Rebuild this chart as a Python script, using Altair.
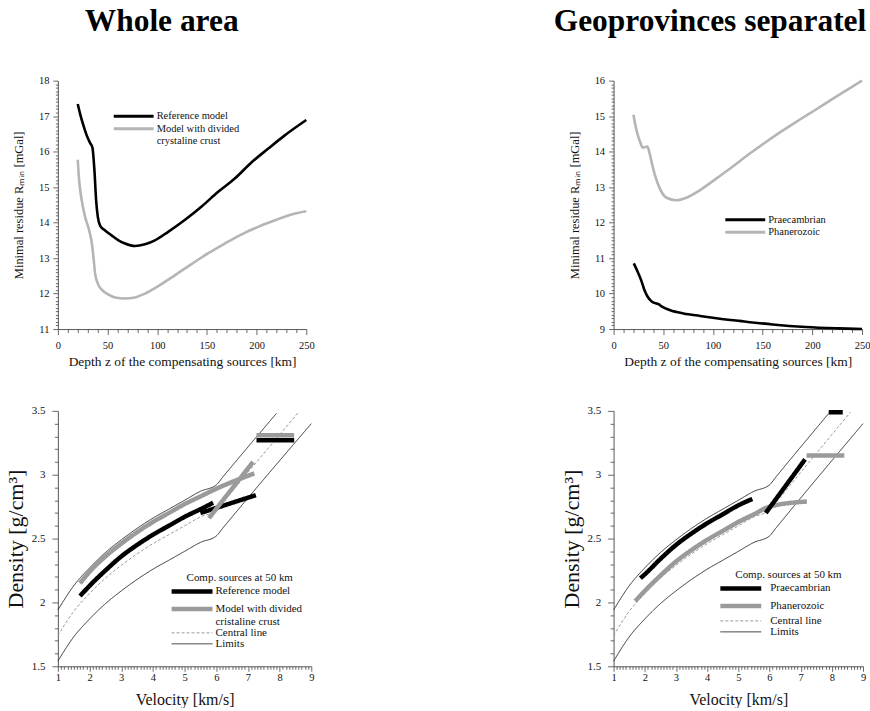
import altair as alt
import pandas as pd

# ---------------- panel titles ----------------
panel_titles = ["Whole area", "Geoprovinces separately"]

# ---------------- top-left: whole area ----------------
depth_ref = [20, 22.5, 25.8, 29.1, 32.5, 34.8, 36.8, 38.5, 40.2, 42.8, 47.5, 54, 61, 67.6, 77.6,
             87.7, 97.7, 111, 128, 145, 161, 178, 195, 211.5, 228, 250]
rmin_ref = [17.34, 17.05, 16.73, 16.45, 16.24, 16.11, 15.47, 14.63, 14.16, 13.90, 13.78, 13.64, 13.50,
            13.41, 13.34, 13.39, 13.50, 13.74, 14.08, 14.46, 14.86, 15.24, 15.70, 16.08, 16.45, 16.89]
depth_div = [20, 21.4, 24, 27.4, 31.5, 34, 35.8, 37.5, 40.2, 44.2, 51, 57.6, 67.6, 77.6, 87.7, 101,
             118, 134.5, 151, 168, 185, 201.5, 218, 235, 250]
rmin_div = [15.77, 15.19, 14.63, 14.16, 13.78, 13.45, 13.03, 12.56, 12.28, 12.11, 11.97, 11.89, 11.86,
            11.89, 12.00, 12.21, 12.52, 12.83, 13.13, 13.41, 13.67, 13.88, 14.06, 14.23, 14.32]

# ---------------- top-right: geoprovinces ----------------
depth_prae = [20.3, 24.3, 27.7, 31, 34.3, 38.7, 45.3, 48.7, 57, 70.3, 87, 105.3, 126.7, 160, 193.3, 226.7, 250]
rmin_prae = [10.85, 10.61, 10.38, 10.10, 9.91, 9.77, 9.70, 9.63, 9.53, 9.44, 9.37, 9.30, 9.23, 9.13, 9.06, 9.02, 9.00]
depth_phan = [20, 21.7, 24, 26.7, 29.3, 31.7, 34, 36, 38.3, 41.7, 46.7, 53.3, 63.3, 73.3, 86.7, 103.3,
              120, 136.7, 153.3, 170, 186.7, 203.3, 220, 236.7, 250]
rmin_phan = [15.04, 14.78, 14.50, 14.27, 14.11, 14.13, 14.14, 13.98, 13.70, 13.33, 12.95, 12.70, 12.63,
             12.70, 12.91, 13.24, 13.58, 13.94, 14.27, 14.59, 14.89, 15.18, 15.48, 15.77, 16.00]

# ---------------- bottom: velocity-density envelopes ----------------
vel_upper = [1, 1.5, 2, 2.5, 3, 3.5, 4, 4.5, 5, 5.5, 6, 6.2, 7.9]
dens_upper = [1.94, 2.13, 2.27, 2.39, 2.49, 2.58, 2.66, 2.73, 2.80, 2.87, 2.92, 2.98, 3.48]
vel_central = [1, 1.5, 2, 2.5, 3, 3.5, 4, 4.5, 5, 5.5, 6, 6.2, 8.6]
dens_central = [1.74, 1.93, 2.07, 2.19, 2.29, 2.38, 2.46, 2.53, 2.60, 2.67, 2.72, 2.78, 3.49]
vel_lower = [1, 1.5, 2, 2.5, 3, 3.5, 4, 4.5, 5, 5.5, 6, 6.2, 9]
dens_lower = [1.54, 1.73, 1.87, 1.99, 2.09, 2.18, 2.26, 2.33, 2.40, 2.47, 2.52, 2.58, 3.40]

# bottom-left segments
ref_curve_v = [1.7, 2, 2.5, 3, 3.5, 4, 4.5, 5, 5.5, 5.9]
ref_curve_d = [2.05, 2.13, 2.25, 2.36, 2.45, 2.53, 2.60, 2.67, 2.73, 2.78]
ref_lin_v = [5.5, 7.25]
ref_lin_d = [2.70, 2.84]
ref_top_v = [7.27, 8.46]
ref_top_d = [3.27, 3.27]
div_curve_v = [1.7, 2, 2.5, 3, 3.5, 4, 4.5, 5, 5.5, 6, 7.2]
div_curve_d = [2.15, 2.24, 2.36, 2.46, 2.55, 2.63, 2.70, 2.77, 2.83, 2.89, 3.01]
div_lin_v = [5.77, 7.16]
div_lin_d = [2.66, 3.10]
div_top_v = [7.27, 8.46]
div_top_d = [3.31, 3.31]

# bottom-right segments
prae_curve_v = [1.86, 2, 2.5, 3, 3.5, 4, 4.5, 5, 5.45]
prae_curve_d = [2.19, 2.22, 2.34, 2.45, 2.54, 2.62, 2.69, 2.76, 2.81]
prae_lin_v = [5.88, 7.14]
prae_lin_d = [2.70, 3.12]
prae_top_v = [7.9, 8.35]
prae_top_d = [3.49, 3.49]
phan_curve_v = [1.69, 2, 2.5, 3, 3.5, 4, 4.5, 5, 5.5, 6, 7.2]
phan_curve_d = [2.01, 2.09, 2.21, 2.32, 2.41, 2.49, 2.56, 2.63, 2.69, 2.75, 2.79]
phan_top_v = [7.19, 8.4]
phan_top_d = [3.15, 3.15]

FONT = "Liberation Serif"


def frame(pairs):
    parts = []
    for xs, ys, series, seg in pairs:
        parts.append(pd.DataFrame({"x": xs, "y": ys, "series": series, "seg": seg}))
    return pd.concat(parts, ignore_index=True)


def axis(title, values, test, major, minor, lpad, tpad, lsize, tsize, ext=None):
    kw = dict(
        title=title, values=values,
        tickSize={"condition": {"test": test, "value": major}, "value": minor},
        labelExpr="(" + test + ") ? format(datum.value, '~g') : ''",
        labelPadding=lpad, titlePadding=tpad, labelFontSize=lsize, titleFontSize=tsize,
    )
    if ext is not None:
        kw["minExtent"] = ext
        kw["maxExtent"] = ext
    return alt.Axis(**kw)


def heading(text, dx, limit):
    return alt.Chart(pd.DataFrame({"t": [text]})).mark_text(
        font=FONT, fontSize=31.5, fontWeight="bold", color="#000", align="left",
        baseline="alphabetic", limit=limit, ellipsis="\u200b",
    ).encode(text="t:N", x=alt.value(dx), y=alt.value(-50))


top_x_vals = list(range(0, 251, 10))
test_50 = "abs(datum.value % 50) < 0.001"
test_int = "abs(datum.value - round(datum.value)) < 0.001"
test_half = "abs(datum.value*2 - round(datum.value*2)) < 0.001"


def top_panel(df, domain, colors, ydom, ytitle, legx, legy, head, width):
    yvals = [round(ydom[0] + i * 0.1, 1) for i in range(int(round((ydom[1] - ydom[0]) * 10)) + 1)]
    lab_expr = ("datum.label == 'Model with divided crystaline crust' ? "
                "['Model with divided', 'crystaline crust'] : datum.label")
    lines = alt.Chart(df).mark_line(strokeWidth=2.6, interpolate="monotone").encode(
        x=alt.X("x:Q", scale=alt.Scale(domain=[0, 250], nice=False, zero=False),
                axis=axis("Depth z of the compensating sources [km]", top_x_vals, test_50,
                          5.5, 3.5, 6, 4, 10.5, 13.5)),
        y=alt.Y("y:Q", scale=alt.Scale(domain=ydom, nice=False, zero=False),
                axis=axis(ytitle, yvals, test_int, 5, 2.5, 4, 12, 10.5, 12.5, ext=20)),
        color=alt.Color("series:N", scale=alt.Scale(domain=domain, range=colors),
                        legend=alt.Legend(title=None, orient="none", legendX=legx, legendY=legy,
                                          symbolType="M-8,0H8", symbolSize=25, symbolStrokeWidth=3,
                                          labelFont=FONT, labelFontSize=10.5, labelColor="#111",
                                          labelOffset=17.75, rowPadding=-0.5, padding=0,
                                          labelExpr=lab_expr)),
        detail="seg:N",
    )
    return alt.layer(lines, head).properties(width=width, height=249)


def bottom_panel(df_env, df_thick, domain, legx, legy, lab_off, width):
    colors = ["#000000", "#9a9a9a", "#9a9a9a", "#333333"]
    widths = [4.5, 4.5, 1, 1]
    dashes = [[1, 0], [1, 0], [3, 2], [1, 0]]
    lab_expr = ("indexof(datum.label, 'Model with divided') == 0 ? "
                "['Model with divided', 'cristaline crust'] : datum.label")
    leg = alt.Legend(title="Comp. sources at 50 km", titleFont=FONT, titleFontSize=11,
                     titleFontWeight="normal", titleColor="#111", titlePadding=2.5,
                     titleAnchor="start",
                     orient="none", legendX=legx, legendY=legy,
                     symbolType="M-8.2,0H8.2", symbolSize=25,
                     labelOffset=lab_off, labelFont=FONT, labelFontSize=11, labelColor="#111",
                     rowPadding=-1.5, padding=0, labelExpr=lab_expr)
    xvals = [round(1 + i * 0.1, 1) for i in range(81)]
    yvals = [round(1.5 + i * 0.1, 1) for i in range(21)]
    enc = dict(
        x=alt.X("x:Q", scale=alt.Scale(domain=[1, 9], nice=False, zero=False),
                axis=axis("Velocity [km/s]", xvals, test_int, 5, 3, 1.5, 8, 10.5, 16)),
        y=alt.Y("y:Q", scale=alt.Scale(domain=[1.5, 3.5], nice=False, zero=False),
                axis=axis("Density [g/cm³]", yvals, test_half, 6, 3.5, 7, 10, 11, 22, ext=20)),
        color=alt.Color("series:N", scale=alt.Scale(domain=domain, range=colors), legend=leg),
        strokeWidth=alt.StrokeWidth("series:N", scale=alt.Scale(type="ordinal", domain=domain, range=widths), legend=leg),
        strokeDash=alt.StrokeDash("series:N", scale=alt.Scale(domain=domain, range=dashes), legend=leg),
        detail="seg:N",
    )
    env = alt.Chart(df_env).mark_line(interpolate="monotone").encode(**enc)
    thick = alt.Chart(df_thick).mark_line(interpolate="monotone").encode(**enc)
    return alt.layer(env, thick).properties(width=width, height=256)


# ---- build data frames ----
dom1 = ["Reference model", "Model with divided crystaline crust"]
df1 = frame([(depth_ref, rmin_ref, dom1[0], "a"), (depth_div, rmin_div, dom1[1], "b")])
dom2 = ["Praecambrian", "Phanerozoic"]
df2 = frame([(depth_prae, rmin_prae, dom2[0], "a"), (depth_phan, rmin_phan, dom2[1], "b")])

dom3 = ["Reference model", "Model with divided cristaline crust", "Central line", "Limits"]
dom4 = ["Praecambrian", "Phanerozoic", "Central line", "Limits"]


def env_frame(central, limits):
    return frame([(vel_central, dens_central, central, "c"),
                  (vel_upper, dens_upper, limits, "u"),
                  (vel_lower, dens_lower, limits, "l")])


env3 = env_frame("Central line", "Limits")
env4 = env_frame("Central line", "Limits")
thick3 = frame([(ref_curve_v, ref_curve_d, dom3[0], "r1"), (ref_lin_v, ref_lin_d, dom3[0], "r2"),
                (ref_top_v, ref_top_d, dom3[0], "r3"),
                (div_curve_v, div_curve_d, dom3[1], "d1"), (div_lin_v, div_lin_d, dom3[1], "d2"),
                (div_top_v, div_top_d, dom3[1], "d3")])
thick4 = frame([(phan_curve_v, phan_curve_d, dom4[1], "h1"), (phan_top_v, phan_top_d, dom4[1], "h3"),
                (prae_curve_v, prae_curve_d, dom4[0], "p1"), (prae_lin_v, prae_lin_d, dom4[0], "p2"),
                (prae_top_v, prae_top_d, dom4[0], "p3")])

p1 = top_panel(df1, dom1, ["#000000", "#b5b5b5"], [11, 18], "Minimal residue Rₘᵢₙ [mGal]",
               70.75, 30.5, heading(panel_titles[0], 27, 300), 249)
p2 = top_panel(df2, dom2, ["#000000", "#b5b5b5"], [9, 16], "Minimal residue Rₘᵢₙ [mGal]",
               126.75, 134.3, heading(panel_titles[1], -60, 316), 249)
p3 = bottom_panel(env3, thick3, dom3, 129, 162, 18, 254)
p4 = bottom_panel(env4, thick4, dom4, 122, 159, 24, 250)

ind = dict(color="independent", strokeWidth="independent", strokeDash="independent")

chart = alt.concat(p1, p2, p3, p4, columns=2, spacing={"row": 82, "column": 303}, bounds="flush").resolve_scale(
    **ind).resolve_legend(**ind).properties(
    padding={"left": 5, "top": 5, "right": 0, "bottom": 0},
    background="white",
).configure_view(stroke=None).configure_axis(
    domainColor="#444", tickColor="#444", labelFont=FONT, titleFont=FONT, titleFontWeight="normal",
    labelColor="#111", titleColor="#111", grid=False, labelOverlap=False, labelFlush=False,
    tickWidth=0.8, domainWidth=0.9,
)

chart.save("out.html", embed_options={"renderer": "svg", "actions": False})
